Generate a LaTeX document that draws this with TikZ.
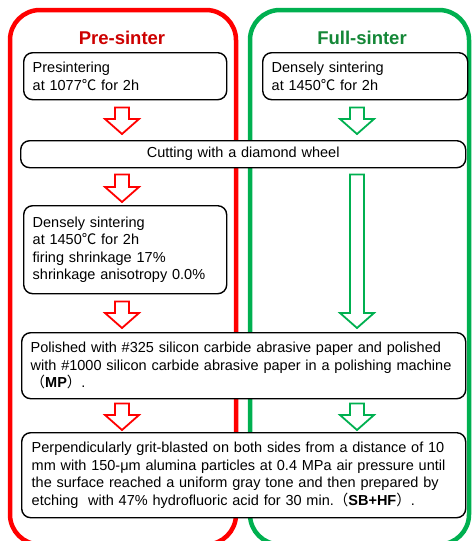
\documentclass[tikz,border=0pt]{standalone}
\usepackage{fontspec}
\setmainfont{Liberation Sans}[WordSpace=0.6]
\newfontfamily\cjk{Noto Sans CJK SC}
\usetikzlibrary{calc}

\definecolor{prered}{RGB}{255,0,0}
\definecolor{fullgreen}{RGB}{0,176,80}
\definecolor{pretitle}{RGB}{205,0,0}
\definecolor{fulltitle}{RGB}{20,135,55}

\newcommand{\degC}{{\cjk ℃}}
\newcommand{\lpar}{{\cjk （}}
\newcommand{\rpar}{{\cjk ）}}
% hollow block arrow from #2 (top of shaft) to #3 (tip)
\newcommand{\blockarrow}[3]{%
  \draw[#1, line width=1.8pt, fill=white, line join=miter] let \p1=#2, \p2=#3 in
    (\x1-7pt,\y1) -- (\x1+7pt,\y1) -- (\x1+7pt,\y2+15pt) -- (\x1+17pt,\y2+15pt)
    -- (\x1,\y2) -- (\x1-17pt,\y2+15pt) -- (\x1-7pt,\y2+15pt) -- cycle;}

\begin{document}
\begin{tikzpicture}[x=1pt,y=-1pt,
  stepbox/.style={draw, fill=white, line width=1.4pt, rounded corners=9pt, anchor=north west,
    inner xsep=9pt, inner ysep=0pt, align=left, font=\fontsize{14.5}{17.6}\selectfont},
  titletext/.style={font=\fontsize{18.5}{20}\selectfont\bfseries}]
\useasboundingbox (0,0) rectangle (472,541);

% the two columns
\draw[prered, line width=4.5pt, rounded corners=30pt] (10,10) rectangle (236,544.5);
\draw[fullgreen, line width=4.5pt, rounded corners=30pt] (250,10) rectangle (469,544.5);
\node[titletext, pretitle] (pretitle) at (122,37.5) {Pre-sinter};
\node[titletext, fulltitle] (fulltitle) at (362,37.5) {Full-sinter};

% steps
\node[stepbox, text width=185pt, minimum height=47pt] (pre1) at (23,52)
  {Presintering\\at 1077\degC{} for 2h};
\node[stepbox, text width=187pt, minimum height=47pt] (full1) at (262,52)
  {Densely sintering\\at 1450\degC{} for 2h};
\node[stepbox, text width=427pt, minimum height=27pt, align=center] (cut) at (20,140)
  {Cutting with a diamond wheel};
\node[stepbox, text width=185pt, minimum height=88pt] (pre2) at (23,205)
  {Densely sintering\\at 1450\degC{} for 2h\\firing shrinkage 17\%\\shrinkage anisotropy 0.0\%};
\node[stepbox, text width=426pt, minimum height=66pt] (polish) at (21,332)
  {Polished with \#325 silicon carbide abrasive paper and polished\\with \#1000 silicon carbide abrasive paper in a polishing machine\\\lpar\textbf{MP}\rpar.};
\node[stepbox, text width=424pt, minimum height=85pt, inner xsep=10pt] (blast) at (21,432)
  {Perpendicularly grit-blasted on both sides from a distance of 10\\mm with 150-μm alumina particles at 0.4 MPa air pressure until\\the surface reached a uniform gray tone and then prepared by\\etching\ \ with 47\% hydrofluoric acid for 30 min.\lpar\textbf{SB+HF}\rpar.};

% arrows
\coordinate (lx) at (122,0);
\coordinate (rx) at (357,0);
\blockarrow{prered}{([yshift=-7pt]pre1.south -| lx)}{([yshift=6pt]cut.north -| lx)}
\blockarrow{fullgreen}{([yshift=-7pt]full1.south -| rx)}{([yshift=6pt]cut.north -| rx)}
\blockarrow{prered}{([yshift=-6pt]cut.south -| lx)}{([yshift=3pt]pre2.north -| lx)}
\blockarrow{fullgreen}{([yshift=-6pt]cut.south -| rx)}{([yshift=4pt]polish.north -| rx)}
\blockarrow{prered}{([yshift=-7pt]pre2.south -| lx)}{([yshift=4pt]polish.north -| lx)}
\blockarrow{prered}{([yshift=-4pt]polish.south -| lx)}{([yshift=2pt]blast.north -| lx)}
\blockarrow{fullgreen}{([yshift=-4pt]polish.south -| rx)}{([yshift=2pt]blast.north -| rx)}
\end{tikzpicture}
\end{document}
